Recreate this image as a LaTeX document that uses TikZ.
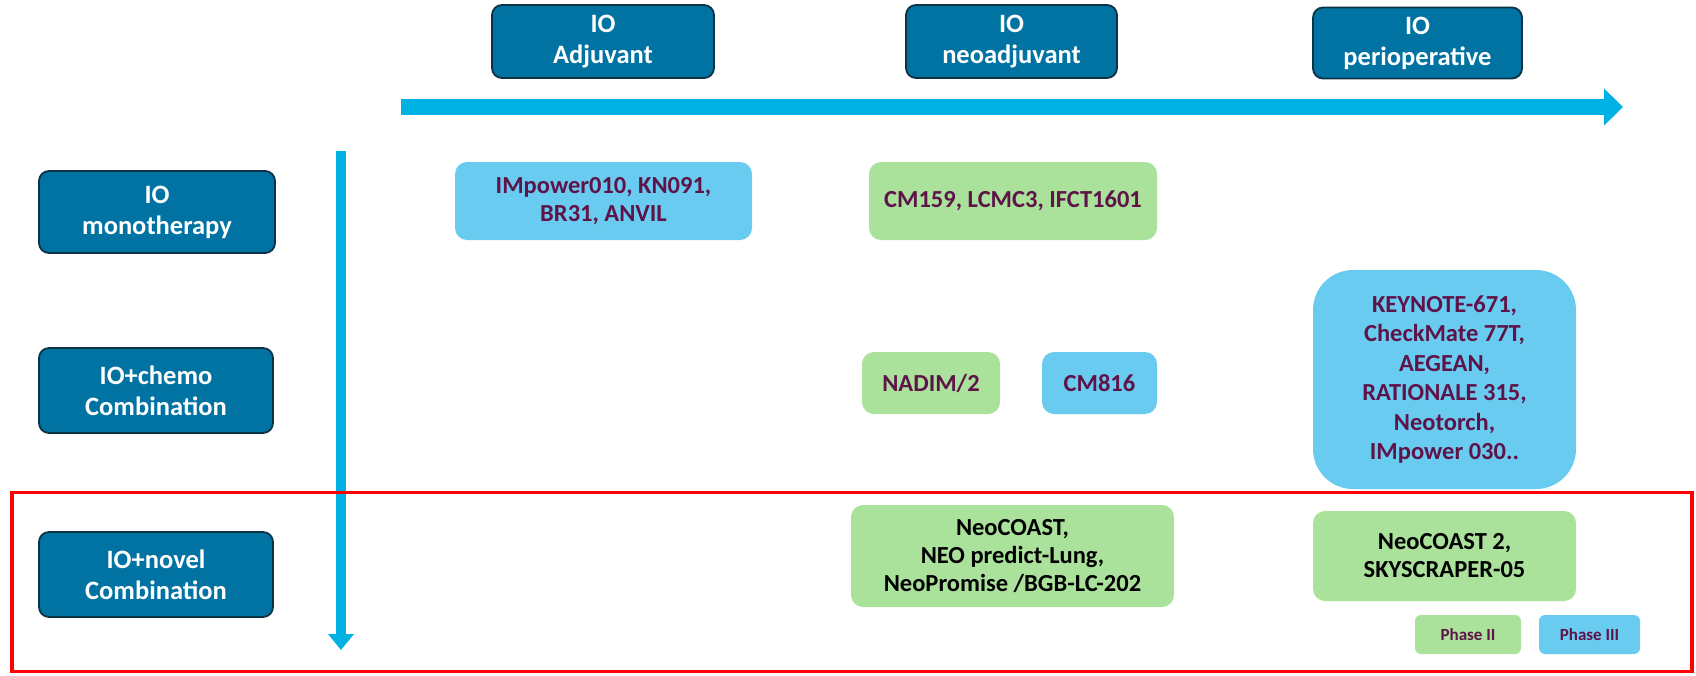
\documentclass[tikz,border=0pt]{standalone}
\usepackage{fontspec}
\setmainfont{Carlito}
\usetikzlibrary{arrows.meta}
\definecolor{hdr}{RGB}{0,115,163}
\definecolor{hdrline}{RGB}{12,50,70}
\definecolor{lblue}{RGB}{106,203,240}
\definecolor{lgreen}{RGB}{170,225,155}
\definecolor{purp}{RGB}{94,20,72}
\definecolor{arr}{RGB}{0,178,228}
\definecolor{redl}{RGB}{255,0,0}
\tikzset{
  hdrbox/.style={fill=hdr, draw=hdrline, line width=1.8pt, rounded corners=10pt, text=white,
    font=\fontsize{26.5}{31}\selectfont\bfseries, align=center, inner sep=0pt},
  trial/.style={rounded corners=12pt, draw=none, text=purp, align=center, inner sep=0pt,
    font=\fontsize{24.5}{28}\selectfont\bfseries},
  bluebox/.style={trial, fill=lblue},
  greenbox/.style={trial, fill=lgreen},
  novel/.style={greenbox, text=black},
  phase/.style={trial, rounded corners=6pt, font=\fontsize{17}{20}\selectfont\bfseries},
  axis/.style={draw=arr, color=arr}
}
\begin{document}
\begin{tikzpicture}[x=1pt,y=-1pt]
\useasboundingbox (0,0) rectangle (1696,675);
% column headers
\node[hdrbox, minimum width=222pt, minimum height=73pt] (hA) at (603,41.5) {IO\\Adjuvant};
\node[hdrbox, minimum width=211pt, minimum height=73pt] (hN) at (1011.5,41.5) {IO\\neoadjuvant};
\node[hdrbox, minimum width=209pt, minimum height=71pt] (hP) at (1417.5,43) {IO\\perioperative};
% row headers
\node[hdrbox, minimum width=236pt, minimum height=82pt] (rM) at (157,212) {IO\\monotherapy};
\node[hdrbox, minimum width=234pt, minimum height=85pt] (rC) at (156,390.5) {IO+chemo\\Combination};
\node[hdrbox, minimum width=234pt, minimum height=85pt] (rN) at (156,574.5) {IO+novel\\Combination};
% axes
\coordinate (hs) at (401,107);
\coordinate (he) at (1623,107);
\draw[axis, line width=16pt, -{Triangle[length=19pt,width=36pt]}] (hs) -- (he);
\coordinate (vs) at (341,151);
\coordinate (ve) at (341,650);
\draw[axis, line width=10pt, -{Triangle[length=16pt,width=25pt]}] (vs) -- (ve);
% trial boxes
\node[bluebox, minimum width=297pt, minimum height=78pt] (b1) at (603.5,201) {IMpower010, KN091,\\BR31, ANVIL};
\node[greenbox, minimum width=288pt, minimum height=78pt] (b2) at (1013,201) {CM159, LCMC3, IFCT1601};
\node[greenbox, minimum width=138pt, minimum height=62pt] (b3) at (931,383) {NADIM/2};
\node[bluebox, minimum width=115pt, minimum height=62pt] (b4) at (1099.5,383) {CM816};
\node[bluebox, rounded corners=40pt, minimum width=263pt, minimum height=219pt, font=\fontsize{24.5}{29.5}\selectfont\bfseries] (b5) at (1444.5,379.5)
  {KEYNOTE-671,\\CheckMate 77T,\\AEGEAN,\\RATIONALE 315,\\Neotorch,\\IMpower 030..};
\node[novel, minimum width=323pt, minimum height=102pt] (b6) at (1012.5,556) {NeoCOAST,\\NEO predict-Lung,\\NeoPromise /BGB-LC-202};
\node[novel, minimum width=263pt, minimum height=90pt] (b7) at (1444.5,556) {NeoCOAST 2,\\SKYSCRAPER-05};
% legend
\node[phase, fill=lgreen, minimum width=106pt, minimum height=39pt] (p2) at (1468,634.5) {Phase II};
\node[phase, fill=lblue, minimum width=101pt, minimum height=39pt] (p3) at (1589.5,634.5) {Phase III};
% highlight frame
\node[draw=redl, line width=3.5pt, minimum width=1680pt, minimum height=179pt, inner sep=0pt] (frame) at (852,582) {};
\end{tikzpicture}
\end{document}
